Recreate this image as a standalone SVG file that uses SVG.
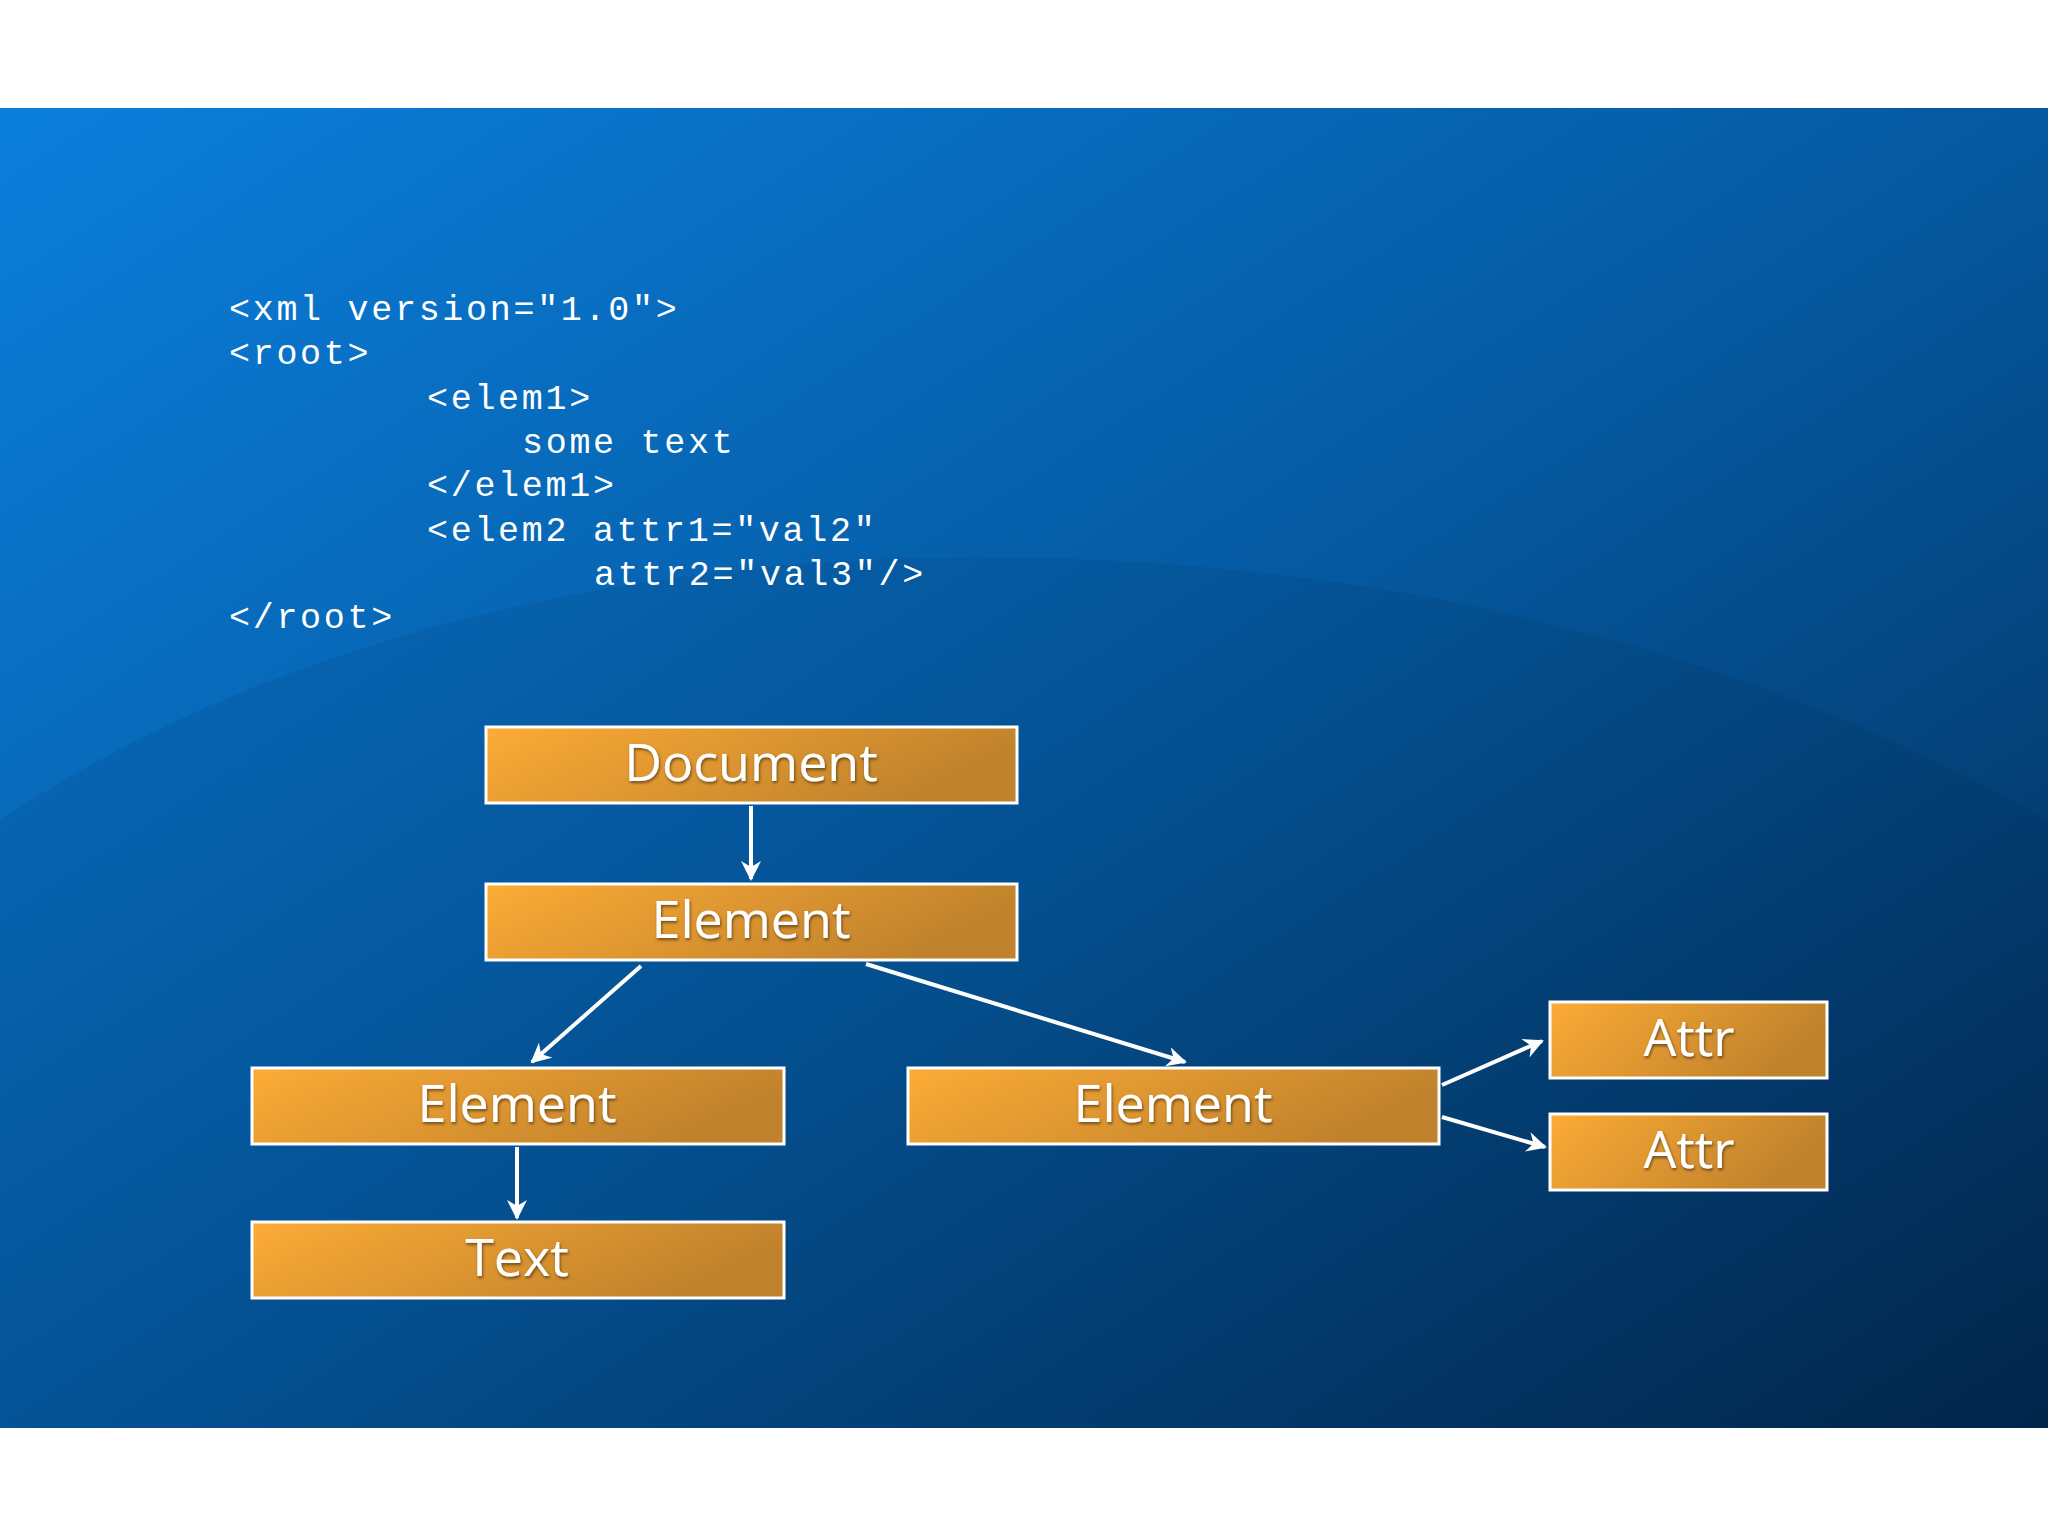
<svg xmlns="http://www.w3.org/2000/svg" width="2048" height="1536" viewBox="0 0 2048 1536">
<defs>
<linearGradient id="bg" x1="0" y1="0" x2="1" y2="1"><stop offset="0" stop-color="#0b7fdc"/><stop offset="0.5" stop-color="#0559a0"/><stop offset="1" stop-color="#03284f"/></linearGradient>
<linearGradient id="box" x1="0" y1="0" x2="1" y2="0.3"><stop offset="0" stop-color="#fcab35"/><stop offset="1" stop-color="#c0822c"/></linearGradient>
<marker id="ah" viewBox="0 0 10 10" refX="9" refY="5" markerWidth="5" markerHeight="5" orient="auto"><path d="M0,0 L10,5 L0,10 L3,5 z" fill="#fff"/></marker>
<filter id="sh"><feDropShadow dx="1" dy="2" stdDeviation="1.5" flood-color="#000" flood-opacity="0.5"/></filter>
</defs>
<style>
.b{fill:url(#box);stroke:#fff;stroke-width:3}
.l{font-family:"Open Sans","DejaVu Sans",sans-serif;font-size:52px;fill:#fff;text-anchor:middle;filter:url(#sh)}
.c{font-family:"Liberation Mono","DejaVu Sans Mono",monospace;font-size:35px;fill:#fff;letter-spacing:2.7px}
.e{stroke:#fff;stroke-width:4;fill:none;marker-end:url(#ah)}
</style>
<rect width="2048" height="1536" fill="#fff"/>
<rect x="0" y="108" width="2048" height="1320" fill="url(#bg)"/>
<path d="M0,820 C300,620 700,540 1100,560 C1500,580 1800,680 2048,820 L2048,1428 L0,1428 z" fill="#000" opacity="0.06"/>
<g id="code" class="c">
<text x="229" y="320">&lt;xml version="1.0"&gt;</text>
<text x="229" y="364">&lt;root&gt;</text>
<text x="427" y="409">&lt;elem1&gt;</text>
<text x="522" y="453">some text</text>
<text x="427" y="496">&lt;/elem1&gt;</text>
<text x="427" y="541">&lt;elem2 attr1="val2"</text>
<text x="594" y="585">attr2="val3"/&gt;</text>
<text x="229" y="628">&lt;/root&gt;</text>
</g>
<g id="connectors">
<line class="e" x1="751" y1="806" x2="751" y2="879"/>
<line class="e" x1="641" y1="966" x2="532" y2="1062"/>
<line class="e" x1="866" y1="964" x2="1185" y2="1062"/>
<line class="e" x1="517" y1="1147" x2="517" y2="1218"/>
<line class="e" x1="1442" y1="1085" x2="1542" y2="1041"/>
<line class="e" x1="1442" y1="1117" x2="1545" y2="1147"/>
</g>
<g id="document"><rect class="b" x="486" y="727" width="531" height="76"/><text class="l" x="751" y="781">Document</text></g>
<g id="element1"><rect class="b" x="486" y="884" width="531" height="76"/><text class="l" x="751" y="938">Element</text></g>
<g id="element2"><rect class="b" x="252" y="1068" width="532" height="76"/><text class="l" x="517" y="1122">Element</text></g>
<g id="text"><rect class="b" x="252" y="1222" width="532" height="76"/><text class="l" x="517" y="1276">Text</text></g>
<g id="element3"><rect class="b" x="908" y="1068" width="531" height="76"/><text class="l" x="1173" y="1122">Element</text></g>
<g id="attr1"><rect class="b" x="1550" y="1002" width="277" height="76"/><text class="l" x="1689" y="1056">Attr</text></g>
<g id="attr2"><rect class="b" x="1550" y="1114" width="277" height="76"/><text class="l" x="1689" y="1168">Attr</text></g>
</svg>
